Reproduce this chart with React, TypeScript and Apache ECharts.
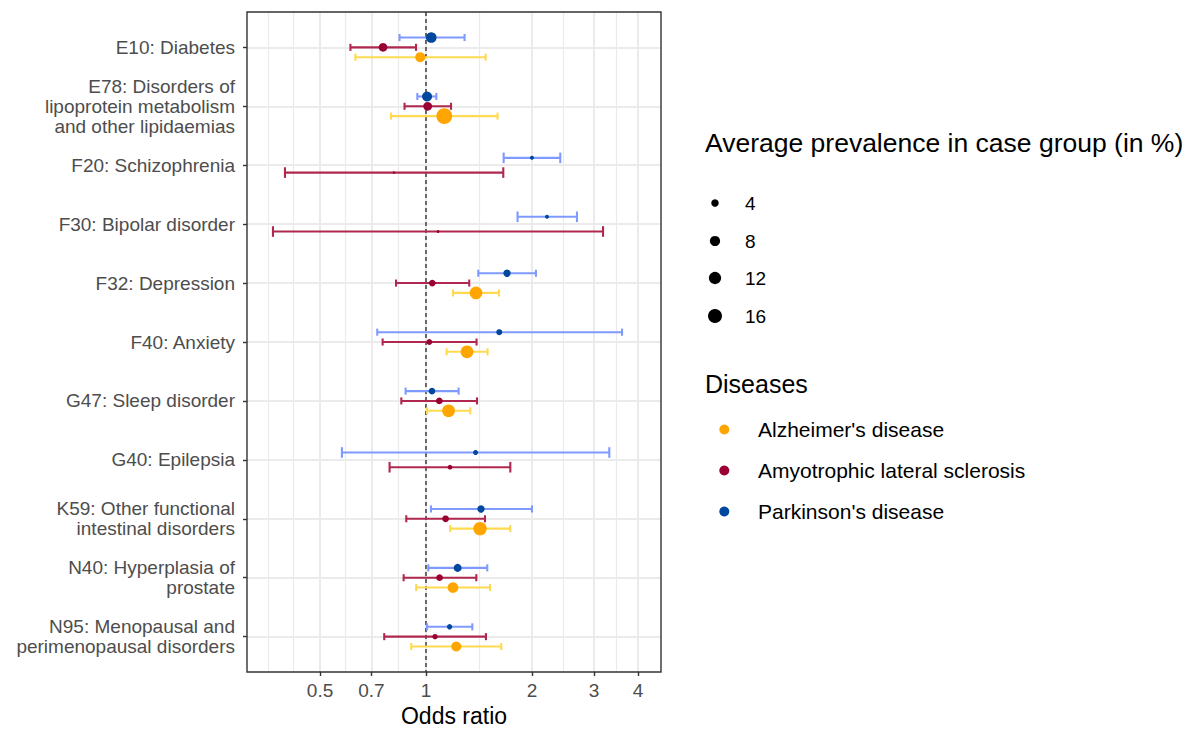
import React, { useEffect, useRef } from "react";
import * as echarts from "echarts";

const FONT = "'Liberation Sans', Arial, Helvetica, sans-serif";

// ---- categories (top to bottom) ----
const categories = [
  "E10: Diabetes",
  "E78: Disorders of\nlipoprotein metabolism\nand other lipidaemias",
  "F20: Schizophrenia",
  "F30: Bipolar disorder",
  "F32: Depression",
  "F40: Anxiety",
  "G47: Sleep disorder",
  "G40: Epilepsia",
  "K59: Other functional\nintestinal disorders",
  "N40: Hyperplasia of\nprostate",
  "N95: Menopausal and\nperimenopausal disorders",
];

const diseases = ["Alzheimer's disease", "Amyotrophic lateral sclerosis", "Parkinson's disease"];

// ---- Alzheimer's disease ----
const adOR = [0.963, 1.127, null, null, 1.387, 1.308, 1.159, null, 1.424, 1.193, 1.219];
const adLo = [0.630, 0.795, null, null, 1.193, 1.144, 1.007, null, 1.172, 0.938, 0.908];
const adHi = [1.477, 1.597, null, null, 1.612, 1.496, 1.336, null, 1.736, 1.520, 1.636];
const adPrev = [7.7, 21, null, null, 13, 13, 13, null, 14.4, 8.8, 7.7];

// ---- Amyotrophic lateral sclerosis ----
const alsOR = [0.755, 1.011, 0.811, 1.082, 1.042, 1.022, 1.091, 1.170, 1.137, 1.093, 1.061];
const alsLo = [0.610, 0.869, 0.3975, 0.3675, 0.822, 0.753, 0.851, 0.788, 0.879, 0.864, 0.761];
const alsHi = [0.937, 1.178, 1.658, 3.184, 1.327, 1.392, 1.396, 1.736, 1.471, 1.390, 1.480];
const alsPrev = [5.6, 5.6, 0.2, 0.35, 3.1, 2.1, 3.1, 1.3, 3.1, 3.1, 1.8];

// ---- Parkinson's disease ----
const pdOR = [1.035, 1.007, 2.0, 2.207, 1.699, 1.615, 1.040, 1.383, 1.433, 1.230, 1.167];
const pdLo = [0.841, 0.945, 1.662, 1.820, 1.408, 0.727, 0.875, 0.577, 1.033, 1.015, 1.007];
const pdHi = [1.287, 1.070, 2.407, 2.685, 2.053, 3.605, 1.238, 3.317, 2.0, 1.493, 1.354];
const pdPrev = [8.8, 7.7, 0.85, 0.85, 3.8, 2.4, 3.1, 1.5, 3.8, 4.6, 1.8];

// ---- axis ticks ----
const xTickValues = [0.5, 0.7, 1, 2, 3, 4];
const xTickLabels = ["0.5", "0.7", "1", "2", "3", "4"];
const xMinorValues = [0.357, 0.4206, 0.5916, 0.8367, 1.4142, 2.4495, 3.4641];
const xLimits = [0.3101, 4.652];
const sizeBreaks = [4, 8, 12, 16];

// ---- colours ----
const pointColors = ["#FFA500", "#990033", "#00479E"];
const barColors = ["#FFDA50", "#B0284F", "#7F9AFF"];

const dodgeWidth = 0.5;
const errWidth = 0.36;

const log = (v: number) => Math.log10(v);
const sizeOf = (p: number) => 3.25 * Math.sqrt(p) + 1;

function buildData() {
  const dis = [
    { or: adOR, lo: adLo, hi: adHi, prev: adPrev },
    { or: alsOR, lo: alsLo, hi: alsHi, prev: alsPrev },
    { or: pdOR, lo: pdLo, hi: pdHi, prev: pdPrev },
  ];
  const order = [2, 1, 0]; // top to bottom within a row
  const bars: number[][][] = [[], [], []];
  const pts: number[][][] = [[], [], []];
  for (let i = 0; i < categories.length; i++) {
    const present = order.filter((d) => dis[d].or[i] != null);
    const n = present.length;
    present.forEach((d, k) => {
      const y = i + (k - (n - 1) / 2) * (dodgeWidth / n);
      const cap = errWidth / n / 2;
      bars[d].push([log(dis[d].lo[i] as number), log(dis[d].hi[i] as number), y, cap]);
      pts[d].push([log(dis[d].or[i] as number), y, dis[d].prev[i] as number]);
    });
  }
  return { bars, pts };
}

export default function App() {
  const ref = useRef<HTMLDivElement>(null);
  useEffect(() => {
    if (!ref.current) return;
    const chart = echarts.init(ref.current, undefined, { renderer: "svg" });
    const { bars, pts } = buildData();
    const yIdx = categories.map((_, i) => i);
    const xMin = log(xLimits[0]);
    const xMax = log(xLimits[1]);

    const barSeries = [0, 1, 2].map((d) => ({
      type: "custom",
      name: diseases[d] + " CI",
      z: 2,
      silent: true,
      data: bars[d],
      encode: { x: [0, 1], y: 2 },
      renderItem: (params: any, api: any) => {
        const a = api.coord([api.value(0), api.value(2)]);
        const b = api.coord([api.value(1), api.value(2)]);
        const t = api.coord([api.value(0), api.value(2) - api.value(3)]);
        const u = api.coord([api.value(0), api.value(2) + api.value(3)]);
        const h = Math.abs(u[1] - t[1]) / 2;
        const style = { stroke: barColors[d], lineWidth: 2.1, fill: null };
        return {
          type: "group",
          children: [
            { type: "line", shape: { x1: a[0], y1: a[1], x2: b[0], y2: b[1] }, style },
            { type: "line", shape: { x1: a[0], y1: a[1] - h, x2: a[0], y2: a[1] + h }, style },
            { type: "line", shape: { x1: b[0], y1: b[1] - h, x2: b[0], y2: b[1] + h }, style },
          ],
        };
      },
    }));

    const pointSeries = [0, 1, 2].map((d) => ({
      type: "scatter",
      name: diseases[d],
      z: 3,
      silent: true,
      data: pts[d],
      symbol: "circle",
      symbolSize: (val: number[]) => sizeOf(val[2]),
      itemStyle: { color: pointColors[d], opacity: 1 },
    }));

    const refLine = {
      type: "custom",
      name: "reference",
      z: 1,
      silent: true,
      data: [[0]],
      encode: { x: 0 },
      renderItem: (params: any, api: any) => {
        const p1 = api.coord([0, -0.6]);
        const p2 = api.coord([0, categories.length - 0.4]);
        return {
          type: "line",
          shape: { x1: p1[0], y1: p1[1], x2: p2[0], y2: p2[1] },
          style: { stroke: "#000000", lineWidth: 1.1, lineDash: [4, 3] },
        };
      },
    };

    const graphic: any[] = [];
    graphic.push({
      type: "text",
      x: 705,
      y: 143,
      style: {
        text: "Average prevalence in case group (in %)",
        fontSize: 26.5,
        fontFamily: FONT,
        fill: "#000",
        verticalAlign: "middle",
      },
    });
    const sizeY = [203, 241, 278, 316];
    sizeBreaks.forEach((s, i) => {
      graphic.push({
        type: "circle",
        shape: { cx: 715, cy: sizeY[i], r: sizeOf(s) / 2 },
        style: { fill: "#000" },
      });
      graphic.push({
        type: "text",
        x: 745,
        y: sizeY[i],
        style: { text: String(s), fontSize: 19, fontFamily: FONT, fill: "#000", verticalAlign: "middle" },
      });
    });
    graphic.push({
      type: "text",
      x: 705,
      y: 384,
      style: { text: "Diseases", fontSize: 25, fontFamily: FONT, fill: "#000", verticalAlign: "middle" },
    });
    const disY = [429.5, 470.5, 511.5];
    diseases.forEach((nm, i) => {
      graphic.push({
        type: "circle",
        shape: { cx: 724.3, cy: disY[i], r: 5 },
        style: { fill: pointColors[i] },
      });
      graphic.push({
        type: "text",
        x: 758,
        y: disY[i],
        style: { text: nm, fontSize: 21, fontFamily: FONT, fill: "#000", verticalAlign: "middle" },
      });
    });

    const option: any = {
      animation: false,
      textStyle: { fontFamily: FONT },
      grid: {
        left: 247,
        right: 531,
        top: 12,
        bottom: 57,
        containLabel: false,
        outerBoundsMode: "none",
        show: true,
        borderColor: "#333333",
        borderWidth: 1.4,
        backgroundColor: "rgba(0,0,0,0)",
        z: 10,
      },
      xAxis: [
        {
          type: "value",
          min: xMin,
          max: xMax,
          axisLine: { show: false, onZero: false },
          axisTick: {
            show: true,
            length: 4,
            lineStyle: { color: "#333333", width: 1.4 },
            customValues: xTickValues.map(log),
          },
          axisLabel: {
            show: true,
            customValues: xTickValues.map(log),
            formatter: (v: number) => {
              const i = xTickValues.findIndex((t) => Math.abs(log(t) - v) < 1e-6);
              return i >= 0 ? xTickLabels[i] : "";
            },
            color: "#4D4D4D",
            fontSize: 19,
            fontFamily: FONT,
            margin: 9,
          },
          splitLine: { show: true, lineStyle: { color: "#EBEBEB", width: 2 } },
          name: "Odds ratio",
          nameLocation: "middle",
          nameGap: 31,
          nameTextStyle: { fontSize: 23, color: "#000000", fontFamily: FONT },
        },
        {
          type: "value",
          min: xMin,
          max: xMax,
          position: "bottom",
          axisLine: { show: false, onZero: false },
          axisTick: { show: false, customValues: xMinorValues.map(log) },
          axisLabel: { show: false, customValues: xMinorValues.map(log) },
          splitLine: { show: true, lineStyle: { color: "#EBEBEB", width: 1.2 } },
        },
      ],
      yAxis: {
        type: "value",
        inverse: true,
        min: -0.6,
        max: categories.length - 0.4,
        axisLine: { show: false, onZero: false },
        axisTick: {
          show: true,
          length: 4,
          lineStyle: { color: "#333333", width: 1.4 },
          customValues: yIdx,
        },
        axisLabel: {
          customValues: yIdx,
          formatter: (v: number) => categories[Math.round(v)] ?? "",
          color: "#4D4D4D",
          fontSize: 19,
          lineHeight: 20,
          fontFamily: FONT,
          margin: 12,
          align: "right",
        },
        splitLine: { show: true, lineStyle: { color: "#EBEBEB", width: 2 } },
      },
      graphic,
      series: [refLine, ...barSeries, ...pointSeries],
    };
    chart.setOption(option);
    return () => chart.dispose();
  }, []);
  return (
    <div
      ref={ref}
      style={{ position: "absolute", left: 0, top: 0, width: 1192, height: 729, background: "#ffffff" }}
    />
  );
}
